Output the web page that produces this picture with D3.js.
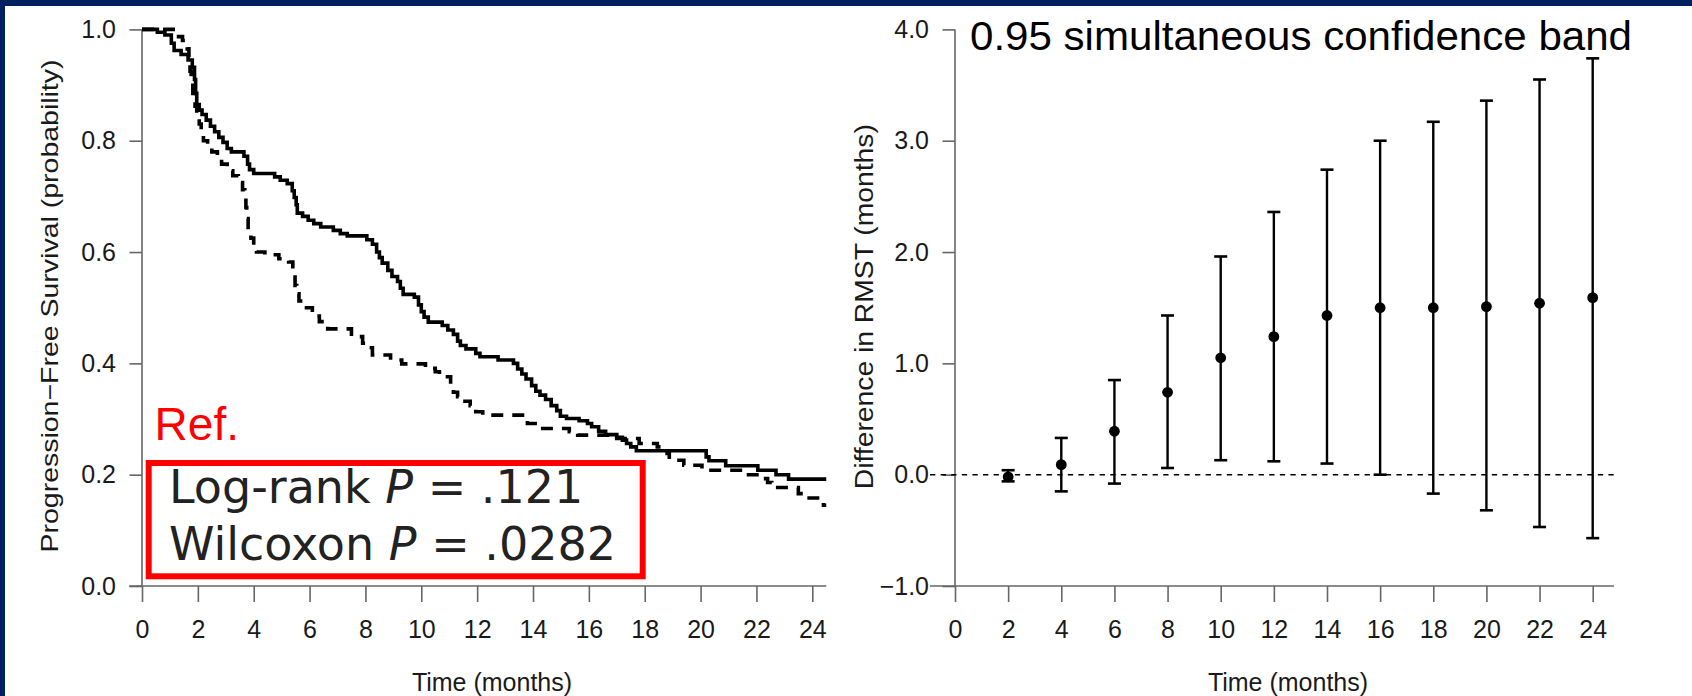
<!DOCTYPE html>
<html>
<head>
<meta charset="utf-8">
<script src="https://cdn.jsdelivr.net/npm/d3@7"></script>
<style>
  html, body { margin: 0; padding: 0; background: #fff; }
  svg { display: block; font-family: "Liberation Sans", Arial, sans-serif; }
</style>
</head>
<body>
<svg id="chart" width="1692" height="696"></svg>
<script>
// ---- data ----
const monthTicks = [0, 2, 4, 6, 8, 10, 12, 14, 16, 18, 20, 22, 24];
const survTicks = [0, 0.2, 0.4, 0.6, 0.8, 1.0];
const rmstTicks = [-1, 0, 1, 2, 3, 4];

// Kaplan-Meier, solid arm (time in months, survival after the step)
const solidTime = [0, 0.55, 0.82, 1.05, 1.15, 1.4, 1.65, 1.8, 1.88, 1.92, 1.96, 2.05, 2.15, 2.3, 2.45, 2.6, 2.75, 2.9, 3.05, 3.2, 3.65, 3.78, 3.85, 4.0, 4.75, 4.95, 5.2, 5.38, 5.45, 5.52, 5.56, 5.75, 5.95, 6.15, 6.4, 6.85, 7.1, 7.35, 8.05, 8.25, 8.4, 8.5, 8.6, 8.8, 8.95, 9.15, 9.25, 9.35, 9.75, 9.9, 10.0, 10.1, 10.25, 10.75, 10.95, 11.15, 11.3, 11.4, 11.6, 11.95, 12.1, 12.75, 13.3, 13.45, 13.6, 13.75, 13.95, 14.1, 14.25, 14.45, 14.65, 14.85, 14.98, 15.2, 15.65, 15.95, 16.1, 16.35, 16.6, 17.0, 17.2, 17.35, 17.5, 17.7, 20.2, 20.3, 20.9, 22.05, 22.7, 23.15, 24.5];
const solidSurv = [1.0, 0.995, 0.99, 0.975, 0.962, 0.955, 0.945, 0.932, 0.91, 0.885, 0.865, 0.855, 0.847, 0.837, 0.826, 0.816, 0.806, 0.797, 0.786, 0.78, 0.772, 0.758, 0.748, 0.741, 0.735, 0.729, 0.723, 0.71, 0.698, 0.685, 0.67, 0.664, 0.657, 0.651, 0.645, 0.639, 0.633, 0.629, 0.622, 0.614, 0.6, 0.59, 0.58, 0.567, 0.556, 0.547, 0.535, 0.524, 0.519, 0.505, 0.493, 0.483, 0.474, 0.468, 0.46, 0.452, 0.44, 0.432, 0.426, 0.418, 0.412, 0.406, 0.4, 0.39, 0.381, 0.372, 0.36, 0.35, 0.343, 0.335, 0.324, 0.315, 0.305, 0.301, 0.297, 0.292, 0.286, 0.278, 0.272, 0.267, 0.262, 0.256, 0.25, 0.243, 0.232, 0.225, 0.216, 0.208, 0.2, 0.192, 0.192];

// Kaplan-Meier, dashed arm
const dashTime = [0, 1.22, 1.45, 1.62, 1.68, 1.72, 1.76, 1.82, 1.9, 1.96, 2.05, 2.12, 2.2, 2.35, 2.5, 2.7, 2.85, 3.05, 3.25, 3.45, 3.6, 3.68, 3.72, 3.75, 3.8, 3.9, 4.0, 4.1, 4.4, 4.9, 5.25, 5.4, 5.48, 5.54, 5.62, 5.8, 6.1, 6.35, 6.65, 7.5, 7.9, 8.1, 8.25, 8.9, 9.3, 10.15, 10.5, 10.65, 11.05, 11.15, 11.3, 11.5, 11.75, 11.95, 12.2, 13.8, 14.15, 15.3, 15.6, 16.9, 17.8, 18.45, 18.8, 18.88, 19.4, 20.05, 21.5, 22.1, 22.4, 22.55, 23.5, 23.75, 24.4, 24.5];
const dashSurv = [1.0, 0.987, 0.98, 0.965, 0.95, 0.925, 0.905, 0.885, 0.862, 0.845, 0.83, 0.815, 0.8, 0.79, 0.78, 0.768, 0.758, 0.746, 0.737, 0.725, 0.712, 0.7, 0.68, 0.66, 0.64, 0.625, 0.61, 0.6, 0.595, 0.588, 0.582, 0.56, 0.54, 0.525, 0.512, 0.5, 0.485, 0.475, 0.462, 0.448, 0.436, 0.428, 0.415, 0.406, 0.399, 0.391, 0.385, 0.376, 0.362, 0.348, 0.34, 0.332, 0.324, 0.313, 0.307, 0.292, 0.283, 0.277, 0.271, 0.265, 0.256, 0.25, 0.238, 0.226, 0.217, 0.208, 0.2, 0.193, 0.186, 0.177, 0.166, 0.158, 0.145, 0.145];

// difference in RMST with simultaneous band
const rmstTime = [2, 4, 6, 8, 10, 12, 14, 16, 18, 20, 22, 24];
const rmstDiff = [-0.02, 0.09, 0.39, 0.74, 1.05, 1.24, 1.43, 1.5, 1.5, 1.51, 1.54, 1.59];
const rmstLower = [-0.06, -0.15, -0.08, 0.06, 0.13, 0.12, 0.1, 0.0, -0.17, -0.32, -0.47, -0.57];
const rmstUpper = [0.04, 0.33, 0.85, 1.43, 1.96, 2.36, 2.74, 3.0, 3.17, 3.36, 3.55, 3.74];

const svg = d3.select("#chart");
const axisColor = "#666";
const textColor = "#1a1a1a";

// slide frame
svg.append("rect").attr("x", 0).attr("y", 0).attr("width", 1692).attr("height", 6).attr("fill", "#002060");
svg.append("rect").attr("x", 0).attr("y", 0).attr("width", 5).attr("height", 696).attr("fill", "#002060");

function styleAxis(g) {
  g.select(".domain").remove();
  g.selectAll(".tick line").attr("stroke", axisColor).attr("stroke-width", 1.6);
  g.selectAll(".tick text")
    .attr("fill", textColor)
    .style("font-size", "25px")
    .style("font-family", "'Liberation Sans', Arial, sans-serif");
}

function drawAxes(x, y, yTicks, xStart, xEnd) {
  svg.append("g")
    .attr("transform", `translate(0,${y(yTicks[0])})`)
    .call(d3.axisBottom(x).tickValues(monthTicks).tickSize(16).tickPadding(18).tickFormat(d3.format("d")))
    .call(styleAxis);
  svg.append("g")
    .attr("transform", `translate(${x(0)},0)`)
    .call(d3.axisLeft(y).tickValues(yTicks).tickSize(12.5).tickPadding(13.5).tickFormat(d3.format(".1f")))
    .call(styleAxis);
  // axis lines
  svg.append("line")
    .attr("x1", x(xStart)).attr("x2", x(xEnd))
    .attr("y1", y(yTicks[0])).attr("y2", y(yTicks[0]))
    .attr("stroke", axisColor).attr("stroke-width", 1.6);
  svg.append("line")
    .attr("x1", x(0)).attr("x2", x(0))
    .attr("y1", y(yTicks[0])).attr("y2", y(yTicks[yTicks.length - 1]))
    .attr("stroke", axisColor).attr("stroke-width", 1.6);
}

// ---------- left panel: KM curves ----------
const xL = d3.scaleLinear().domain([0, 24]).range([142, 812.3]);
const yL = d3.scaleLinear().domain([0, 1]).range([586, 29.4]);

drawAxes(xL, yL, survTicks, -0.46, 24.5);

const km = d3.line().curve(d3.curveStepAfter);

svg.append("path")
  .attr("d", km(solidTime.map((t, i) => [xL(t), yL(solidSurv[i])])))
  .attr("fill", "none").attr("stroke", "#000").attr("stroke-width", 3.6);

svg.append("path")
  .attr("d", km(dashTime.map((t, i) => [xL(t), yL(dashSurv[i])])))
  .attr("fill", "none").attr("stroke", "#000").attr("stroke-width", 3.6)
  .attr("stroke-dasharray", "12,9");

svg.append("text")
  .attr("transform", "translate(58,306) rotate(-90)")
  .attr("text-anchor", "middle")
  .attr("textLength", 493).attr("lengthAdjust", "spacingAndGlyphs")
  .attr("fill", textColor)
  .style("font-size", "24px")
  .text("Progression\u2212Free Survival (probability)");

svg.append("text")
  .attr("x", 492).attr("y", 691)
  .attr("text-anchor", "middle")
  .attr("fill", textColor)
  .style("font-size", "25px")
  .text("Time (months)");

svg.append("text")
  .attr("x", 154.6).attr("y", 440)
  .attr("fill", "#ff0000")
  .style("font-size", "46px")
  .text("Ref.");

svg.append("rect")
  .attr("x", 148.7).attr("y", 463)
  .attr("width", 494).attr("height", 113.3)
  .attr("fill", "#fff").attr("stroke", "#ff0000").attr("stroke-width", 6);

const pLines = [["Log-rank ", " = .121"], ["Wilcoxon ", " = .0282"]];
pLines.forEach((p, i) => {
  const t = svg.append("text")
    .attr("x", 169).attr("y", 503.3 + i * 56.7)
    .attr("fill", "#222")
    .style("font-family", "'DejaVu Sans', Verdana, sans-serif")
    .style("font-size", "46px");
  t.append("tspan").text(p[0]);
  t.append("tspan").style("font-style", "italic").text("P");
  t.append("tspan").text(p[1]);
});

// ---------- right panel: RMST difference ----------
const xR = d3.scaleLinear().domain([0, 24]).range([955, 1592.7]);
const yR = d3.scaleLinear().domain([-1, 4]).range([586, 29.4]);

drawAxes(xR, yR, rmstTicks, -0.94, 24.8);

svg.append("line")
  .attr("x1", xR(-0.94)).attr("x2", xR(24.8))
  .attr("y1", yR(0)).attr("y2", yR(0))
  .attr("stroke", "#000").attr("stroke-width", 1.4)
  .attr("stroke-dasharray", "5.3,5.3");

const bars = svg.append("g").selectAll("g")
  .data(rmstTime)
  .join("g");

bars.append("line")
  .attr("x1", d => xR(d)).attr("x2", d => xR(d))
  .attr("y1", (d, i) => yR(rmstLower[i])).attr("y2", (d, i) => yR(rmstUpper[i]))
  .attr("stroke", "#000").attr("stroke-width", 2.4);

[rmstLower, rmstUpper].forEach(arr => {
  bars.append("line")
    .attr("x1", d => xR(d) - 6.5).attr("x2", d => xR(d) + 6.5)
    .attr("y1", (d, i) => yR(arr[i])).attr("y2", (d, i) => yR(arr[i]))
    .attr("stroke", "#000").attr("stroke-width", 2.6);
});

bars.append("circle")
  .attr("cx", d => xR(d))
  .attr("cy", (d, i) => yR(rmstDiff[i]))
  .attr("r", 5.4)
  .attr("fill", "#000");

svg.append("text")
  .attr("transform", "translate(873,306.7) rotate(-90)")
  .attr("text-anchor", "middle")
  .attr("textLength", 365).attr("lengthAdjust", "spacingAndGlyphs")
  .attr("fill", textColor)
  .style("font-size", "25px")
  .text("Difference in RMST (months)");

svg.append("text")
  .attr("x", 1288).attr("y", 691)
  .attr("text-anchor", "middle")
  .attr("fill", textColor)
  .style("font-size", "25px")
  .text("Time (months)");

svg.append("text")
  .attr("x", 970).attr("y", 50)
  .attr("fill", "#000")
  .attr("textLength", 662).attr("lengthAdjust", "spacingAndGlyphs")
  .style("font-size", "41px")
  .text("0.95 simultaneous confidence band");
</script>
</body>
</html>
